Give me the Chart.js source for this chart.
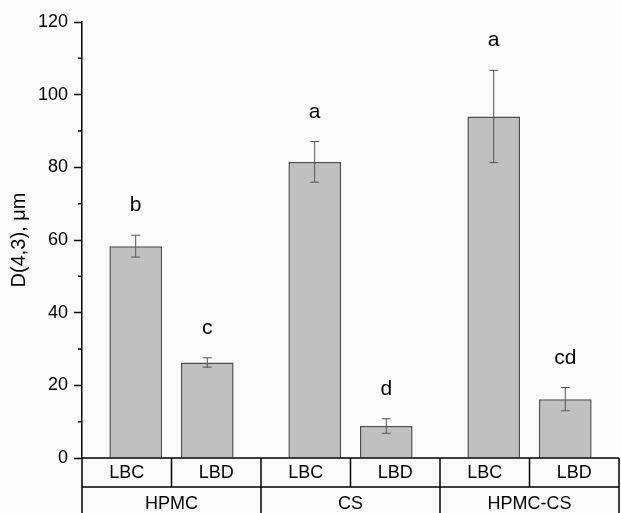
<!DOCTYPE html>
<html>
<head>
<meta charset="utf-8">
<script src="https://cdn.jsdelivr.net/npm/chart.js@4"></script>
<style>
    body { margin: 0; background: #fafafa; }
    #wrap { width: 621px; height: 513px; position: relative; }
</style>
</head>
<body>
<div id="wrap"><canvas id="chart"></canvas></div>
<script>
// Particle size D(4,3) per carrier and method
const groups = ['HPMC', 'CS', 'HPMC-CS'];
const methods = ['LBC', 'LBD'];
const lbcValues = [58.3, 81.5, 94.0];
const lbcErrors = [3.0, 5.6, 12.7];
const lbcLetters = ['b', 'a', 'a'];
const lbdValues = [26.3, 8.8, 16.2];
const lbdErrors = [1.3, 2.0, 3.2];
const lbdLetters = ['c', 'd', 'cd'];
const yTicks = [0, 20, 40, 60, 80, 100, 120];
const yMinorTicks = [10, 30, 50, 70, 90, 110];

const FONT = '"Liberation Sans", Arial, sans-serif';

const errors = [lbcErrors, lbdErrors];
const letters = [lbcLetters, lbdLetters];

// background colour of the whole canvas
const bgPlugin = {
    id: 'bg',
    beforeDraw(chart) {
        const ctx = chart.ctx;
        ctx.save();
        ctx.fillStyle = '#fafafa';
        ctx.fillRect(0, 0, chart.width, chart.height);
        ctx.restore();
    }
};

// error bars and significance letters
const errorPlugin = {
    id: 'errors',
    afterDatasetsDraw(chart) {
        const ctx = chart.ctx;
        const y = chart.scales.y;
        ctx.save();
        chart.data.datasets.forEach((ds, di) => {
            const meta = chart.getDatasetMeta(di);
            meta.data.forEach((bar, i) => {
                const v = ds.data[i];
                const e = errors[di][i];
                const top = y.getPixelForValue(v + e);
                const bot = y.getPixelForValue(v - e);
                ctx.strokeStyle = '#555555';
                ctx.lineWidth = 1;
                ctx.beginPath();
                ctx.moveTo(bar.x, top);
                ctx.lineTo(bar.x, bot);
                ctx.moveTo(bar.x - 4.5, top);
                ctx.lineTo(bar.x + 4.5, top);
                ctx.moveTo(bar.x - 4.5, bot);
                ctx.lineTo(bar.x + 4.5, bot);
                ctx.stroke();

                ctx.fillStyle = '#000';
                ctx.font = '21px ' + FONT;
                ctx.textAlign = 'center';
                ctx.textBaseline = 'alphabetic';
                ctx.fillText(letters[di][i], bar.x, top - 24);
            });
        });
        ctx.restore();
    }
};

// minor ticks plus the two-row label table under the x axis
const tablePlugin = {
    id: 'table',
    afterDraw(chart) {
        const ctx = chart.ctx;
        const area = chart.chartArea;
        const y = chart.scales.y;
        const left = area.left, right = area.right, bottom = area.bottom;
        const rowH = 29;
        const colW = (right - left) / (groups.length * methods.length);

        ctx.save();
        ctx.strokeStyle = '#000';
        ctx.lineWidth = 1.5;

        // minor ticks
        ctx.beginPath();
        yMinorTicks.forEach(t => {
            const py = y.getPixelForValue(t);
            ctx.moveTo(left - 4, py);
            ctx.lineTo(left, py);
        });
        ctx.stroke();

        ctx.beginPath();
        // x axis line and left line down to the bottom
        ctx.moveTo(left, bottom);
        ctx.lineTo(right, bottom);
        ctx.moveTo(left, bottom);
        ctx.lineTo(left, chart.height);
        ctx.moveTo(left, bottom + rowH);
        ctx.lineTo(right, bottom + rowH);
        // sub-column separators
        for (let c = 1; c <= groups.length * methods.length; c++) {
            const x = left + c * colW;
            const isGroup = c % methods.length === 0;
            ctx.moveTo(x, bottom);
            ctx.lineTo(x, isGroup ? chart.height : bottom + rowH);
        }
        ctx.stroke();

        ctx.fillStyle = '#000';
        ctx.font = '18px ' + FONT;
        ctx.textAlign = 'center';
        ctx.textBaseline = 'middle';
        groups.forEach((g, gi) => {
            methods.forEach((m, mi) => {
                const c = gi * methods.length + mi;
                ctx.fillText(m, left + (c + 0.5) * colW, bottom + rowH / 2 + 1);
            });
            const gx = left + (gi + 0.5) * methods.length * colW;
            ctx.fillText(g, gx, bottom + rowH + 17);
        });
        ctx.restore();
    }
};

const ctx = document.getElementById('chart');
new Chart(ctx, {
    type: 'bar',
    data: {
        labels: groups,
        datasets: [
            {
                label: methods[0],
                data: lbcValues,
                backgroundColor: '#c0c0c0',
                borderColor: '#4d4d4d',
                borderWidth: 1.5
            },
            {
                label: methods[1],
                data: lbdValues,
                backgroundColor: '#c0c0c0',
                borderColor: '#4d4d4d',
                borderWidth: 1.5
            }
        ]
    },
    options: {
        responsive: true,
        maintainAspectRatio: false,
        animation: false,
        datasets: {
            bar: {
                categoryPercentage: 0.8,
                barPercentage: 0.735
            }
        },
        layout: {
            padding: { top: 22, right: 2, bottom: 55, left: 0 }
        },
        plugins: {
            legend: { display: false },
            tooltip: { enabled: false }
        },
        scales: {
            x: {
                display: false
            },
            y: {
                min: 0,
                max: 120,
                afterBuildTicks(scale) {
                    scale.ticks = yTicks.map(v => ({ value: v }));
                },
                afterFit(scale) {
                    scale.width = 82;
                },
                ticks: {
                    color: '#000',
                    padding: 6,
                    font: { family: FONT, size: 18 }
                },
                grid: {
                    drawOnChartArea: false,
                    drawTicks: true,
                    tickLength: 8,
                    tickWidth: 1.5,
                    tickColor: '#000'
                },
                border: {
                    display: true,
                    color: '#000',
                    width: 1.5
                },
                title: {
                    display: true,
                    text: 'D(4,3), μm',
                    color: '#000',
                    padding: { top: 7, bottom: 0 },
                    font: { family: FONT, size: 20 }
                }
            }
        }
    },
    plugins: [bgPlugin, errorPlugin, tablePlugin]
});
</script>
</body>
</html>
